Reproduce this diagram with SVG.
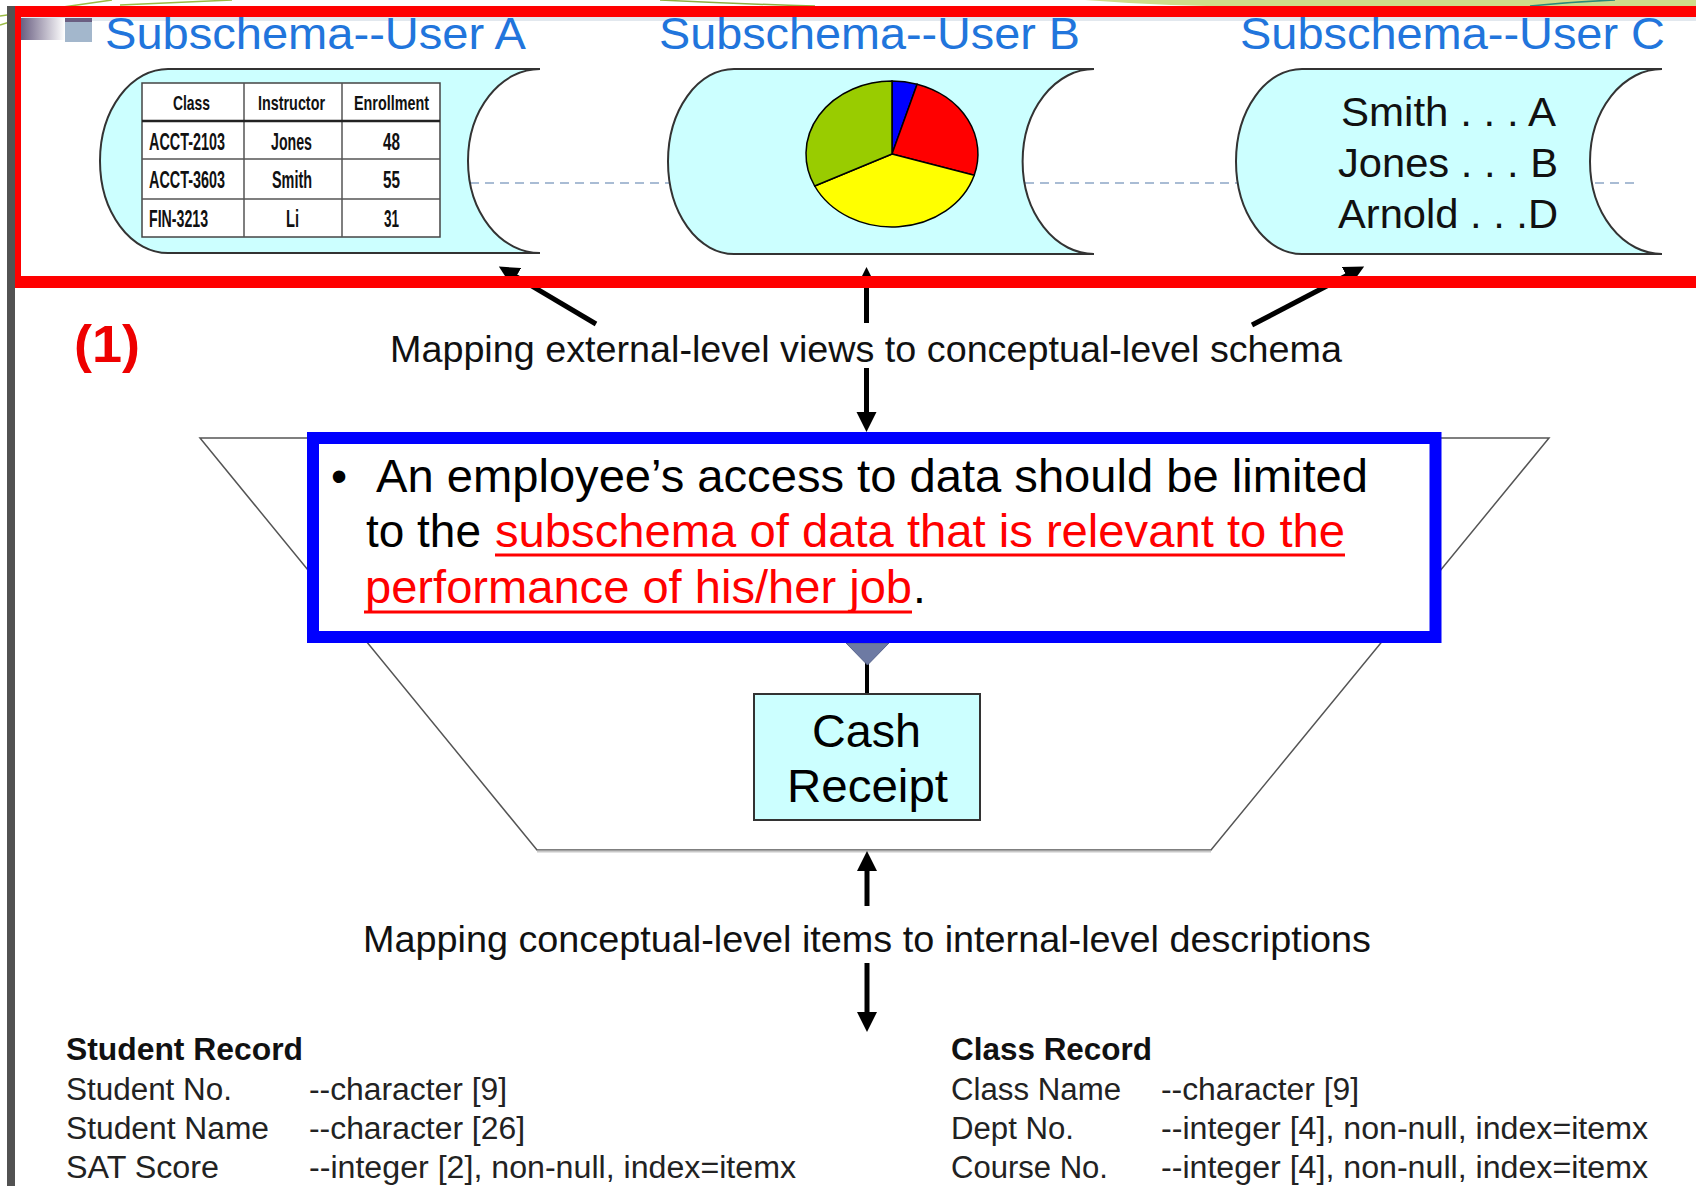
<svg xmlns="http://www.w3.org/2000/svg" width="1696" height="1186" viewBox="0 0 1696 1186">
<style>
  text { font-family: "Liberation Sans", Arial, sans-serif; }
  .title { font-size: 45px; fill: #2175dc; }
  .store { fill: #ccffff; stroke: #333; stroke-width: 2; }
  .th { font-size: 21px; font-weight: bold; fill: #111; font-family: "Liberation Sans Narrow", "Liberation Sans", Arial, sans-serif; }
  .td { font-size: 23px; font-weight: bold; fill: #111; font-family: "Liberation Sans Narrow", "Liberation Sans", Arial, sans-serif; }
  .grid { stroke: #555; stroke-width: 1.5; fill: none; }
  .pie { stroke: #000; stroke-width: 1.5; }
  .big { font-size: 41px; fill: #111; }
  .map { font-size: 37px; fill: #111; }
  .conn { stroke: #000; stroke-width: 5; fill: none; marker-end: url(#ah); }
  .blue { font-size: 46px; fill: #000; }
  .red { fill: #ff0000; }
  .ul { stroke: #ff0000; stroke-width: 3; }
  .rec { font-size: 31px; fill: #222; }
  .recb { font-size: 31px; font-weight: bold; fill: #111; }
</style>
<defs>
  <marker id="ah" markerUnits="userSpaceOnUse" markerWidth="22" markerHeight="22" viewBox="0 -11 22 22" refX="1" refY="0" orient="auto">
    <path d="M0,-10 L20,0 L0,10 Z" fill="#000"/>
  </marker>
  <linearGradient id="grad" x1="0" y1="0" x2="1" y2="0">
    <stop offset="0" stop-color="#6a5f82"/>
    <stop offset="1" stop-color="#ffffff"/>
  </linearGradient>
</defs>
<rect x="0" y="0" width="1696" height="1186" fill="#ffffff"/>

<!-- slide decorations -->
<g id="decor">
  <path d="M1085,0 Q1200,9 1320,6 L1696,6 L1696,0 Z" fill="#cfdc8a"/>
  <path d="M1530,6 Q1570,2 1615,0" stroke="#2a8a7a" stroke-width="1.5" fill="none"/>
  <path d="M660,0 Q740,4 815,6" stroke="#8fb040" stroke-width="1.5" fill="none"/>
  <line x1="0" y1="16" x2="112" y2="0" stroke="#9bbb45" stroke-width="1.5"/>
  <line x1="120" y1="5" x2="232" y2="0" stroke="#9bbb45" stroke-width="1.5"/>
  <line x1="0" y1="25" x2="16" y2="20" stroke="#9bbb45" stroke-width="1.5"/>
  <rect x="21" y="17" width="1675" height="4" fill="#e2e8ee"/>
  <rect x="21" y="18" width="44" height="22" fill="url(#grad)"/>
  <rect x="65" y="18" width="27" height="24" fill="#a3b7cc"/>
  <rect x="65" y="18" width="27" height="4" fill="#6a5f82"/>
  <rect x="7" y="6" width="8" height="1180" fill="#525252"/>
</g>

<!-- dashed guide line -->
<line x1="470" y1="183" x2="1636" y2="183" stroke="#a9bcd4" stroke-width="2" stroke-dasharray="9 6"/>

<g id="userA">
  <text class="title" x="105" y="49" textLength="421" lengthAdjust="spacingAndGlyphs">Subschema--User A</text>
  <path class="store" d="M168,69 L540,69 A72,92 0 0 0 540,253 L168,253 A68,92 0 0 1 168,69 Z"/>
  <rect x="142" y="83" width="298" height="154" fill="#ffffff" stroke="#444" stroke-width="1.5"/>
  <line class="grid" x1="244" y1="83" x2="244" y2="237"/>
  <line class="grid" x1="342" y1="83" x2="342" y2="237"/>
  <line x1="142" y1="121" x2="440" y2="121" stroke="#222" stroke-width="2.5"/>
  <line class="grid" x1="142" y1="159" x2="440" y2="159"/>
  <line class="grid" x1="142" y1="199" x2="440" y2="199"/>
  <text class="th" x="173" y="110" textLength="37" lengthAdjust="spacingAndGlyphs">Class</text>
  <text class="th" x="258" y="110" textLength="67" lengthAdjust="spacingAndGlyphs">Instructor</text>
  <text class="th" x="354" y="110" textLength="75" lengthAdjust="spacingAndGlyphs">Enrollment</text>
  <text class="td" x="149" y="150" textLength="76" lengthAdjust="spacingAndGlyphs">ACCT-2103</text>
  <text class="td" x="271" y="150" textLength="41" lengthAdjust="spacingAndGlyphs">Jones</text>
  <text class="td" x="383" y="150" textLength="17" lengthAdjust="spacingAndGlyphs">48</text>
  <text class="td" x="149" y="188" textLength="76" lengthAdjust="spacingAndGlyphs">ACCT-3603</text>
  <text class="td" x="272" y="188" textLength="40" lengthAdjust="spacingAndGlyphs">Smith</text>
  <text class="td" x="383" y="188" textLength="17" lengthAdjust="spacingAndGlyphs">55</text>
  <text class="td" x="149" y="227" textLength="59" lengthAdjust="spacingAndGlyphs">FIN-3213</text>
  <text class="td" x="286" y="227" textLength="13" lengthAdjust="spacingAndGlyphs">Li</text>
  <text class="td" x="384" y="227" textLength="15" lengthAdjust="spacingAndGlyphs">31</text>
</g>

<g id="userB">
  <text class="title" x="659" y="49" textLength="421" lengthAdjust="spacingAndGlyphs">Subschema--User B</text>
  <path class="store" d="M734,69 L1094,69 A71,92 0 0 0 1094,254 L734,254 A66,92.5 0 0 1 734,69 Z"/>
  <path class="pie" fill="#0000ff" d="M892,154 L892,81 A86,73 0 0 1 917.1,84.2 Z"/>
  <path class="pie" fill="#ff0000" d="M892,154 L917.1,84.2 A86,73 0 0 1 974.2,175.3 Z"/>
  <path class="pie" fill="#ffff00" d="M892,154 L974.2,175.3 A86,73 0 0 1 814.7,186 Z"/>
  <path class="pie" fill="#99cc00" d="M892,154 L814.7,186 A86,73 0 0 1 892,81 Z"/>
</g>

<g id="userC">
  <text class="title" x="1240" y="49" textLength="425" lengthAdjust="spacingAndGlyphs">Subschema--User C</text>
  <path class="store" d="M1302,69 L1662,69 A72,92.5 0 0 0 1662,254 L1302,254 A66,92.5 0 0 1 1302,69 Z"/>
  <text class="big" x="1341" y="126" textLength="215" lengthAdjust="spacingAndGlyphs">Smith . . . A</text>
  <text class="big" x="1338" y="177" textLength="220" lengthAdjust="spacingAndGlyphs">Jones . . . B</text>
  <text class="big" x="1338" y="228" textLength="220" lengthAdjust="spacingAndGlyphs">Arnold . . .D</text>
</g>

<g id="conceptual">
  <polygon points="200,438 1549,438 1211,850 537,850" fill="#ffffff" stroke="#555" stroke-width="1.5"/>
  <line x1="537" y1="851.5" x2="1211" y2="851.5" stroke="#c8c8c8" stroke-width="2"/>
</g>

<g id="connectors">
  <line class="conn" x1="596" y1="324" x2="515.2" y2="276.2"/>
  <line class="conn" x1="1252" y1="325" x2="1347.3" y2="275.3"/>
  <line class="conn" x1="866.5" y1="323" x2="866.5" y2="286"/>
  <line class="conn" x1="866.5" y1="368" x2="866.5" y2="413"/>
  <line class="conn" x1="867" y1="906" x2="867" y2="870"/>
  <line class="conn" x1="867" y1="963" x2="867" y2="1013"/>
  <line x1="867" y1="658" x2="867" y2="694" stroke="#000" stroke-width="4"/>
  <polygon points="846,643 889,643 867.5,665" fill="#6d7aa3" stroke="#56638c" stroke-width="1"/>
</g>

<!-- red highlight frame -->
<g id="redframe" fill="#ff0000">
  <rect x="15" y="6" width="1681" height="11"/>
  <rect x="15" y="276" width="1681" height="12"/>
  <rect x="15" y="6" width="6" height="282"/>
</g>

<text x="74" y="362" font-size="52" font-weight="bold" fill="#ee0000" textLength="66" lengthAdjust="spacingAndGlyphs">(1)</text>
<text class="map" x="390" y="362" textLength="952" lengthAdjust="spacingAndGlyphs">Mapping external-level views to conceptual-level schema</text>

<g id="policy">
  <rect x="313" y="438" width="1122.5" height="199" fill="#ffffff" stroke="#0000ff" stroke-width="12"/>
  <text class="blue" x="331" y="492">•</text>
  <text class="blue" x="376" y="492" textLength="992" lengthAdjust="spacingAndGlyphs">An employee’s access to data should be limited</text>
  <text class="blue" x="366" y="547" textLength="115" lengthAdjust="spacingAndGlyphs">to the</text>
  <text class="blue red" x="495" y="547" textLength="850" lengthAdjust="spacingAndGlyphs">subschema of data that is relevant to the</text>
  <line class="ul" x1="495" y1="555" x2="1345" y2="555"/>
  <text class="blue red" x="365" y="603" textLength="547" lengthAdjust="spacingAndGlyphs">performance of his/her job</text>
  <line class="ul" x1="364" y1="612" x2="912" y2="612"/>
  <text class="blue" x="913" y="603">.</text>
</g>

<g id="cashReceipt">
  <rect x="754" y="694" width="226" height="126" fill="#ccffff" stroke="#333" stroke-width="2"/>
  <text class="blue" x="812" y="747" textLength="109" lengthAdjust="spacingAndGlyphs">Cash</text>
  <text class="blue" x="787" y="802" textLength="161" lengthAdjust="spacingAndGlyphs">Receipt</text>
</g>

<text class="map" x="363" y="952" textLength="1008" lengthAdjust="spacingAndGlyphs">Mapping conceptual-level items to internal-level descriptions</text>

<g id="studentRecord">
  <text class="recb" x="66" y="1060" textLength="237" lengthAdjust="spacingAndGlyphs">Student Record</text>
  <text class="rec" x="66" y="1100" textLength="166" lengthAdjust="spacingAndGlyphs">Student No.</text>
  <text class="rec" x="66" y="1139" textLength="203" lengthAdjust="spacingAndGlyphs">Student Name</text>
  <text class="rec" x="66" y="1178" textLength="153" lengthAdjust="spacingAndGlyphs">SAT Score</text>
  <text class="rec" x="309" y="1100" textLength="198" lengthAdjust="spacingAndGlyphs">--character [9]</text>
  <text class="rec" x="309" y="1139" textLength="216" lengthAdjust="spacingAndGlyphs">--character [26]</text>
  <text class="rec" x="309" y="1178" textLength="487" lengthAdjust="spacingAndGlyphs">--integer [2], non-null, index=itemx</text>
</g>

<g id="classRecord">
  <text class="recb" x="951" y="1060" textLength="201" lengthAdjust="spacingAndGlyphs">Class Record</text>
  <text class="rec" x="951" y="1100" textLength="170" lengthAdjust="spacingAndGlyphs">Class Name</text>
  <text class="rec" x="951" y="1139" textLength="123" lengthAdjust="spacingAndGlyphs">Dept No.</text>
  <text class="rec" x="951" y="1178" textLength="157" lengthAdjust="spacingAndGlyphs">Course No.</text>
  <text class="rec" x="1161" y="1100" textLength="198" lengthAdjust="spacingAndGlyphs">--character [9]</text>
  <text class="rec" x="1161" y="1139" textLength="487" lengthAdjust="spacingAndGlyphs">--integer [4], non-null, index=itemx</text>
  <text class="rec" x="1161" y="1178" textLength="487" lengthAdjust="spacingAndGlyphs">--integer [4], non-null, index=itemx</text>
</g>
</svg>
